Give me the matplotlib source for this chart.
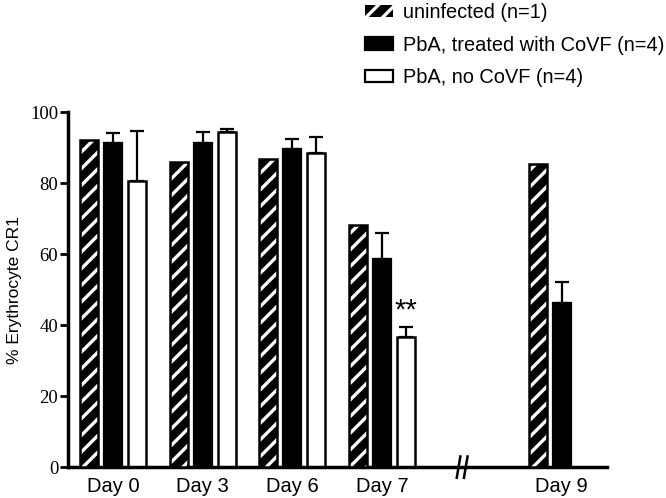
import matplotlib
matplotlib.use("Agg")
import matplotlib.pyplot as plt
from matplotlib.patches import Patch
import numpy as np

days = ["Day 0", "Day 3", "Day 6", "Day 7", "Day 9"]
day_pos = [0, 1, 2, 3, 5]

uninf = [92.1, 86.0, 86.8, 68.2, 85.5]
treated = [91.2, 91.4, 89.6, 58.6, 46.1]
treated_err = [3.0, 3.1, 2.8, 7.2, 5.9]
no_covf = [80.6, 94.5, 88.6, 36.7]
no_covf_err = [14.1, 0.6, 4.3, 2.7]

labels = ["uninfected (n=1)", "PbA, treated with CoVF (n=4)", "PbA, no CoVF (n=4)"]

plt.rcParams["hatch.linewidth"] = 2.4
sans = "Liberation Sans"
serif = "Liberation Serif"

fig = plt.figure(figsize=(6.66, 4.98), dpi=100)
ax = fig.add_axes([0.102, 0.062, 0.809, 0.713])

w = 0.2
off = 0.267
x = np.array(day_pos, dtype=float)

# hatched bars: black fill, white stripes, black outline
ax.bar(x - off, uninf, w, color="black", edgecolor="black", linewidth=0, zorder=2)
ax.bar(x - off, uninf, w, facecolor="none", edgecolor="white", hatch="//", linewidth=0, zorder=3)
ax.bar(x - off, uninf, w, facecolor="none", edgecolor="black", linewidth=1.8, zorder=4)

ax.bar(x, treated, w, color="black", edgecolor="black", linewidth=1.6, zorder=2)
ax.errorbar(x, treated, yerr=[np.zeros(len(treated)), treated_err], fmt="none",
            ecolor="black", elinewidth=1.6, capsize=5, capthick=1.6, zorder=1)

xw = x[:4] + off
ax.bar(xw, no_covf, w, color="white", edgecolor="black", linewidth=1.8, zorder=2)
ax.errorbar(xw, no_covf, yerr=[np.zeros(len(no_covf)), no_covf_err], fmt="none",
            ecolor="black", elinewidth=1.6, capsize=5, capthick=1.6, zorder=1)

ax.text(xw[3], 44.0, "**", ha="center", va="center",
        fontsize=21, fontfamily=sans)

ax.set_xlim(-0.5, 5.5)
ax.set_ylim(0, 100)
ax.set_yticks([0, 20, 40, 60, 80, 100])
ax.set_xticks(day_pos)
ax.set_xticklabels(days, fontfamily=sans, fontsize=14.5)
for t in ax.get_yticklabels():
    t.set_fontfamily(serif)
    t.set_fontsize(13.5)
ax.tick_params(axis="y", direction="out", length=6, width=2, pad=1)
ax.tick_params(axis="x", length=0, pad=7)
ax.spines["top"].set_visible(False)
ax.spines["right"].set_visible(False)
ax.spines["left"].set_linewidth(2.5)
ax.spines["bottom"].set_linewidth(2.5)
ax.set_ylabel("% Erythrocyte CR1", fontfamily=sans, fontsize=12.5, labelpad=6)

# axis break mark
for dx in (-0.05, 0.03):
    ax.plot([3.88 + dx, 3.92 + dx], [-3, 3], color="black", lw=1.8, clip_on=False, zorder=5)

handles = [
    Patch(facecolor="black", edgecolor="white", hatch="//", linewidth=0),
    Patch(facecolor="black", edgecolor="black", linewidth=1.6),
    Patch(facecolor="white", edgecolor="black", linewidth=1.6),
]
fig.legend(handles, labels, loc="upper left", bbox_to_anchor=(0.548, 0.994),
           frameon=False, prop={"family": sans, "size": 14.4}, borderpad=0,
           borderaxespad=0, handlelength=1.4, handleheight=0.6,
           handletextpad=0.5, labelspacing=0.68)

fig.savefig("out.png", dpi=100)
